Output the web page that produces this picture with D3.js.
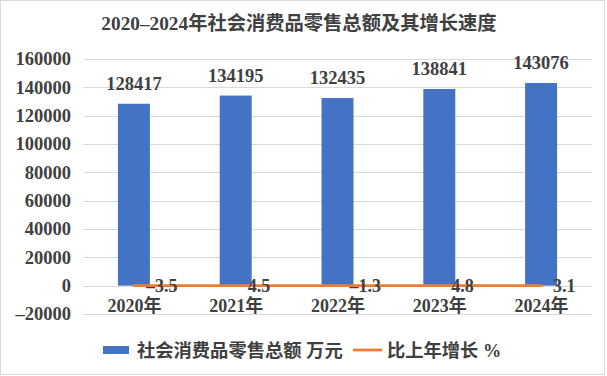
<!DOCTYPE html>
<html>
<head>
<meta charset="utf-8">
<script src="https://cdn.jsdelivr.net/npm/d3@7"></script>
<style>
  body { margin: 0; background: #fff; }
  svg text { font-family: "Liberation Serif", "Noto Sans CJK SC", serif; font-weight: bold; fill: #404040; }
</style>
</head>
<body>
<div id="chart"></div>
<script>
// Data
var years   = ['2020年', '2021年', '2022年', '2023年', '2024年'];
var totals  = [128417, 134195, 132435, 138841, 143076];
var growth  = [-3.5, 4.5, -1.3, 4.8, 3.1];
var yTicks  = [-20000, 0, 20000, 40000, 60000, 80000, 100000, 120000, 140000, 160000];

var chart_width  = 607;
var chart_height = 376;
var left = 83, right = 592, top_y = 59, bottom_y = 314;

var fmt = (v) => v < 0 ? '\u2013' + Math.abs(v) : String(v);

var svg = d3.select('#chart')
  .append('svg')
  .attr('width', chart_width)
  .attr('height', chart_height);

// outer border
svg.append('rect')
  .attr('x', 0.5).attr('y', 0.5)
  .attr('width', 604).attr('height', 374)
  .attr('fill', '#fff')
  .attr('stroke', '#d9d9d9')
  .attr('stroke-width', 1);

var x = d3.scaleBand()
  .domain(years)
  .range([left, right])
  .paddingInner(0.686)
  .paddingOuter(0.343);

var xc = d3.scalePoint()
  .domain(years)
  .range([left, right])
  .padding(0.5);

var y = d3.scaleLinear()
  .domain([-20000, 160000])
  .range([bottom_y, top_y]);

// title
svg.append('text')
  .attr('x', 299)
  .attr('y', 30)
  .attr('text-anchor', 'middle')
  .attr('font-size', 19.3)
  .text('2020\u20132024年社会消费品零售总额及其增长速度');

// gridlines
svg.append('g')
  .selectAll('line')
  .data(yTicks)
  .enter()
  .append('line')
  .attr('x1', left).attr('x2', right)
  .attr('y1', (d) => Math.round(y(d)) + 0.5)
  .attr('y2', (d) => Math.round(y(d)) + 0.5)
  .attr('stroke', '#d9d9d9')
  .attr('stroke-width', 1);

// y axis labels
var yAxis = d3.axisLeft(y)
  .tickValues(yTicks)
  .tickFormat(fmt)
  .tickSize(0)
  .tickPadding(12);

var yg = svg.append('g')
  .attr('transform', 'translate(' + left + ',0)')
  .call(yAxis);
yg.select('.domain').remove();
yg.selectAll('text')
  .attr('font-size', 18.5)
  .attr('font-family', '"Liberation Serif", serif')
  .attr('fill', '#404040');

// bars
svg.append('g')
  .selectAll('rect')
  .data(totals)
  .enter()
  .append('rect')
  .attr('x', (d, i) => x(years[i]))
  .attr('width', x.bandwidth())
  .attr('y', (d) => y(d))
  .attr('height', (d) => y(0) - y(d))
  .attr('fill', '#4472C4');

// bar labels
svg.append('g')
  .selectAll('text')
  .data(totals)
  .enter()
  .append('text')
  .attr('x', (d, i) => xc(years[i]))
  .attr('y', (d) => y(d) - 14)
  .attr('text-anchor', 'middle')
  .attr('font-size', 18.5)
  .text((d) => d);

// x labels
var xAxis = d3.axisBottom(xc)
  .tickSize(0)
  .tickPadding(0);

var xg = svg.append('g')
  .attr('transform', 'translate(0,' + (y(0) + 14) + ')')
  .call(xAxis);
xg.select('.domain').remove();
xg.selectAll('text')
  .attr('font-size', 18)
  .attr('font-family', '"Liberation Serif", "Noto Sans CJK SC", serif')
  .attr('fill', '#404040');

// growth line (same axis)
var line = d3.line()
  .x((d, i) => xc(years[i]))
  .y((d) => y(d));

svg.append('path')
  .datum(growth)
  .attr('d', line)
  .attr('fill', 'none')
  .attr('stroke', '#ED7D31')
  .attr('stroke-width', 2.75)
  .attr('stroke-linecap', 'round');

svg.append('g')
  .selectAll('text')
  .data(growth)
  .enter()
  .append('text')
  .attr('x', (d, i) => xc(years[i]) + 12)
  .attr('y', (d) => y(d) + 6)
  .attr('font-size', 18)
  .text(fmt);

// legend
var legend = svg.append('g');
legend.append('rect')
  .attr('x', 103).attr('y', 346)
  .attr('width', 26).attr('height', 8)
  .attr('fill', '#4472C4');
legend.append('text')
  .attr('x', 137).attr('y', 356.5)
  .attr('font-size', 18.3)
  .text('社会消费品零售总额 万元');
legend.append('line')
  .attr('x1', 353).attr('x2', 382)
  .attr('y1', 350).attr('y2', 350)
  .attr('stroke', '#ED7D31')
  .attr('stroke-width', 2.75);
legend.append('text')
  .attr('x', 387).attr('y', 356.5)
  .attr('font-size', 18.3)
  .text('比上年增长 %');
</script>
</body>
</html>
